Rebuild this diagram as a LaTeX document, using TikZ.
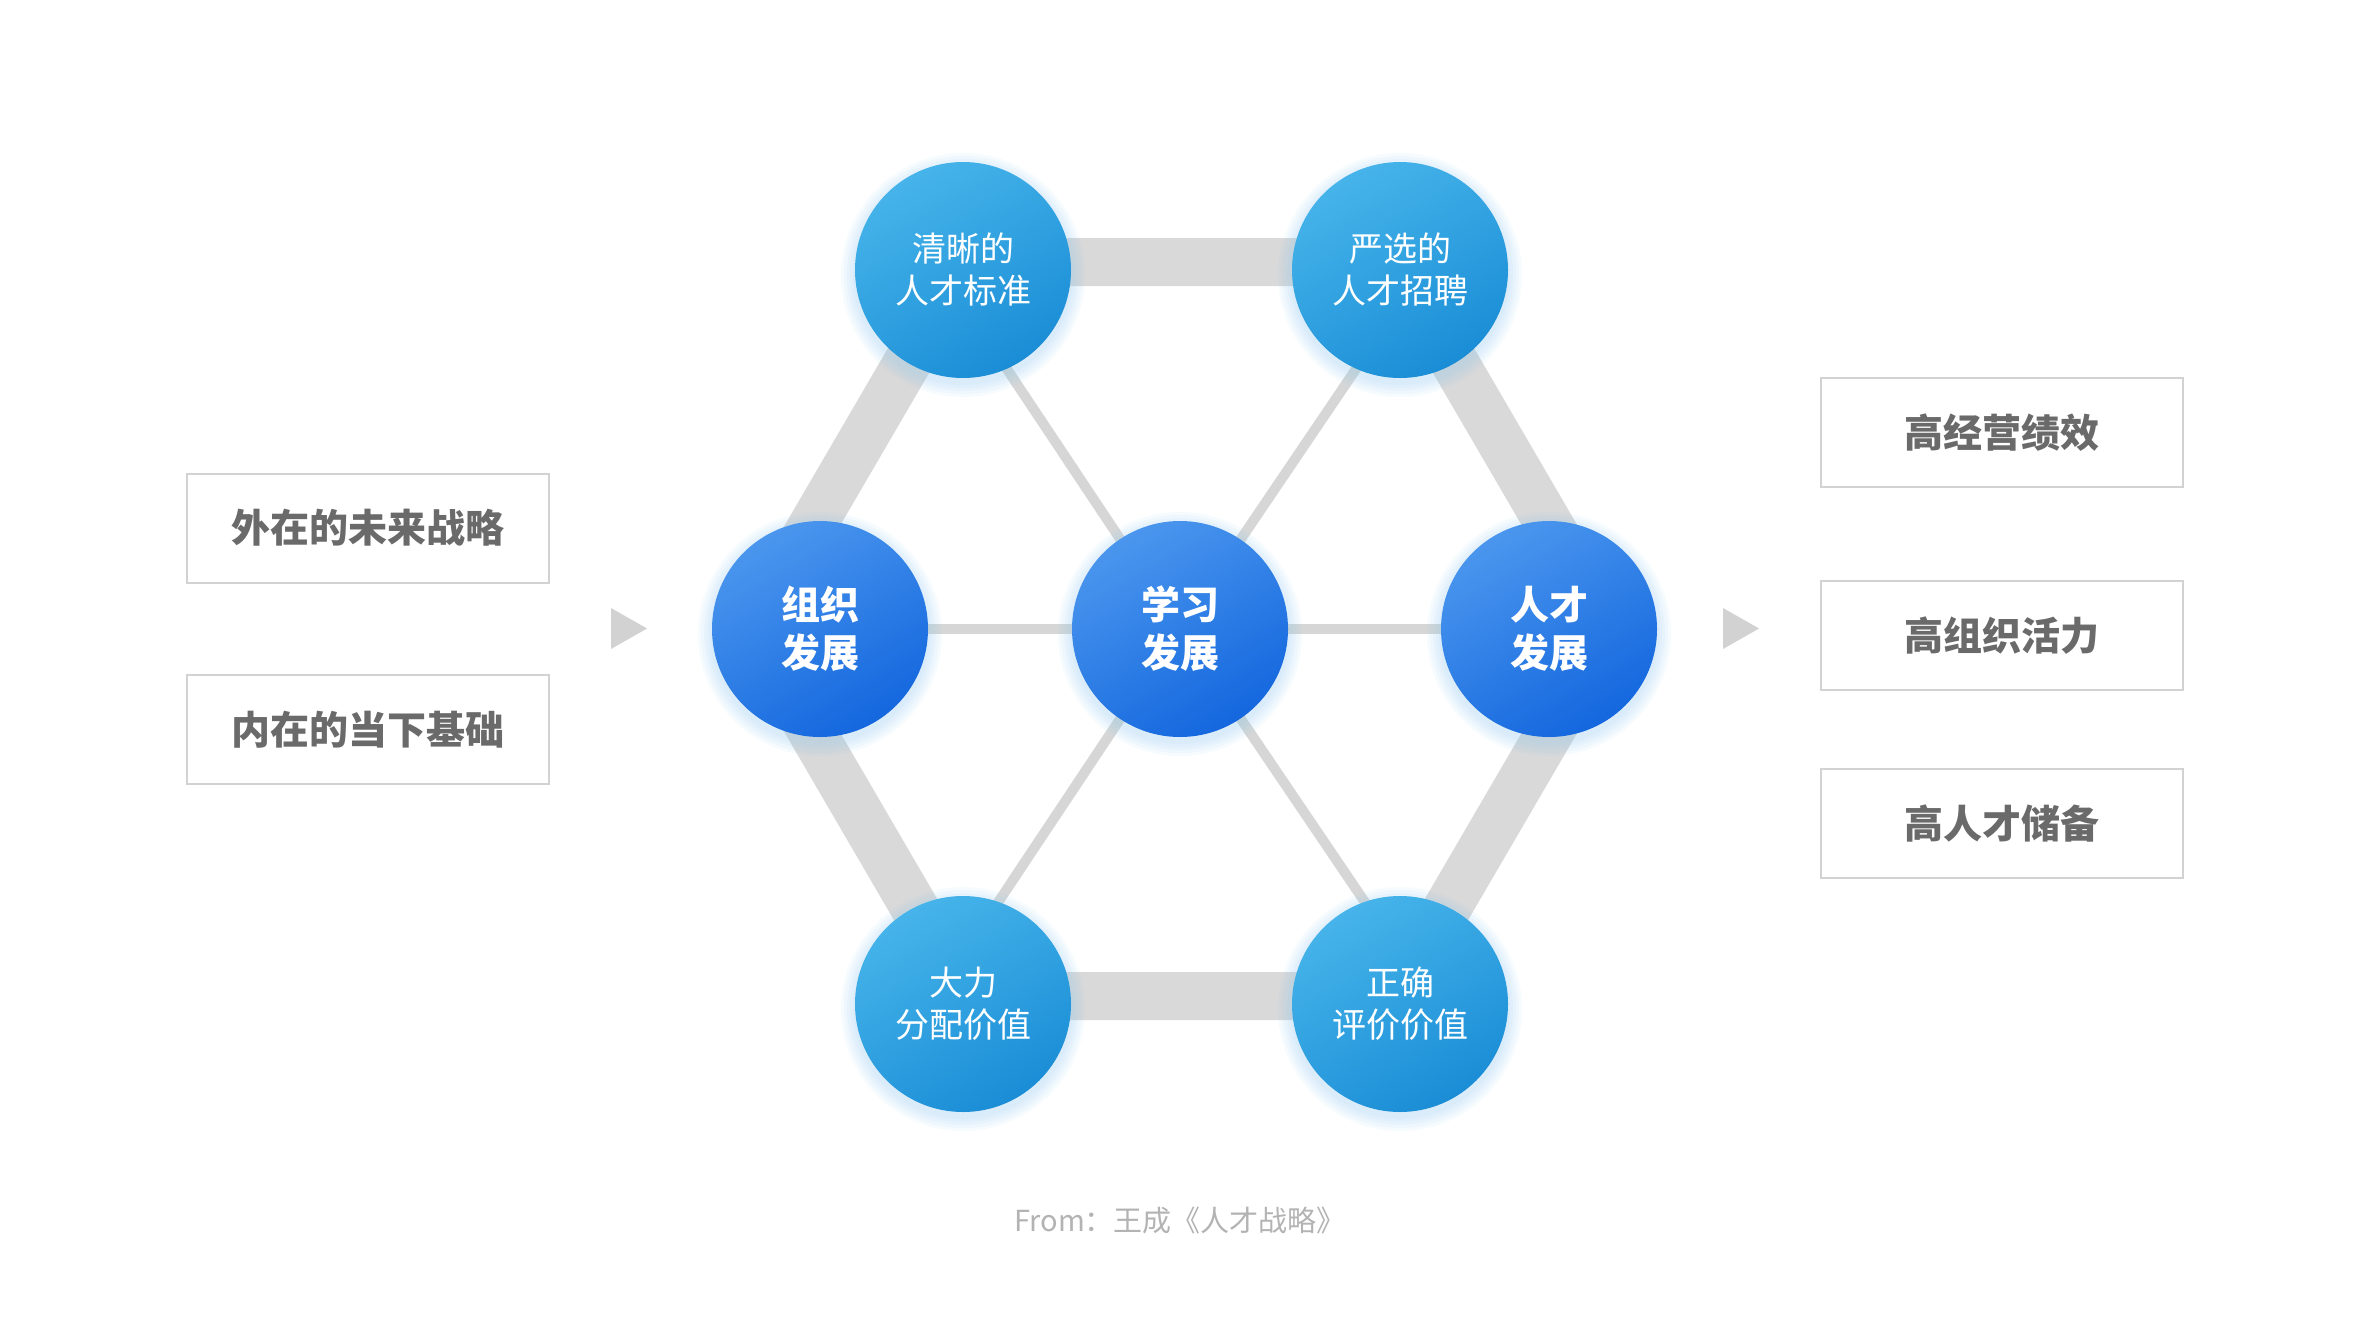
\documentclass[tikz,border=0pt]{standalone}
\usepackage{fontspec}
\setmainfont{Noto Sans CJK SC}
\usetikzlibrary{backgrounds,calc}
\definecolor{barcol}{HTML}{D9D9D9}
\definecolor{spokecol}{HTML}{D6D6D6}
\definecolor{outtop}{HTML}{46B4EA}
\definecolor{outbot}{HTML}{1A8DD6}
\definecolor{midtop}{HTML}{4A96EE}
\definecolor{midbot}{HTML}{1467DE}
\definecolor{glowcol}{HTML}{8CC8F2}
\definecolor{boxline}{HTML}{D2D2D2}
\definecolor{boxtext}{HTML}{6A6A6A}
\definecolor{tricol}{HTML}{D2D2D2}
\definecolor{foot}{HTML}{B3B3B3}
\tikzset{
  outercircle/.style={circle, minimum size=108pt, inner sep=0pt, text=white,
    top color=outtop, bottom color=outbot, shading angle=30, align=center,
    font=\fontsize{17pt}{21pt}\selectfont},
  midcircle/.style={circle, minimum size=108pt, inner sep=0pt, text=white,
    top color=midtop, bottom color=midbot, shading angle=30, align=center,
    font=\fontsize{19.5pt}{24pt}\selectfont\bfseries},
  infobox/.style={rectangle, draw=boxline, line width=1pt, fill=white,
    minimum width=181pt, minimum height=54.5pt, inner sep=0pt, text=boxtext,
    font=\fontsize{19.5pt}{24pt}\selectfont\bfseries},
  hexbar/.style={draw=barcol, line width=24pt, line join=miter},
  spoke/.style={draw=spokecol, line width=5pt},
  glow/.style={fill=glowcol, fill opacity=0.07},
}
\begin{document}
\begin{tikzpicture}[x=0.5pt,y=-0.5pt]
\useasboundingbox (0,0) rectangle (2370,1333);

% circles
\node[outercircle] (TL) at (963,270) {清晰的\\人才标准};
\node[outercircle] (TR) at (1400,270) {严选的\\人才招聘};
\node[midcircle] (L) at (820,629) {组织\\发展};
\node[midcircle] (C) at (1180,629) {学习\\发展};
\node[midcircle] (R) at (1549,629) {人才\\发展};
\node[outercircle] (BL) at (963,1004) {大力\\分配价值};
\node[outercircle] (BR) at (1400,1004) {正确\\评价价值};

% hexagon corners and spoke targets
\coordinate (hTL) at (966,262);
\coordinate (hTR) at (1396,262);
\coordinate (hR) at (1610,629);
\coordinate (hBR) at (1396,996);
\coordinate (hBL) at (966,996);
\coordinate (hL) at (752,629);
\coordinate (sTL) at (941,270);
\coordinate (sTR) at (1423,270);
\coordinate (sBL) at (941,988);
\coordinate (sBR) at (1423,988);

\begin{scope}[on background layer]
  \fill[white] (0,0) rectangle (2370,1333);
  \draw[hexbar] (hTL) -- (hTR) -- (hR) -- (hBR) -- (hBL) -- (hL) -- cycle;
  \draw[spoke] (C.center) -- (sTL);
  \draw[spoke] (C.center) -- (sTR);
  \draw[spoke] (C.center) -- (sBL);
  \draw[spoke] (C.center) -- (sBR);
  \draw[spoke] (C) -- (L);
  \draw[spoke] (C) -- (R);
  \foreach \n in {TL,TR,L,C,R,BL,BR}{
    \foreach \k in {2,5,8,11,14}{
      \fill[glow] ($(\n.center)+(0,5)$) circle ({108+\k});
    }
  }
\end{scope}

% boxes
\node[infobox] (in1) at (368,528) {外在的未来战略};
\node[infobox] (in2) at (368,729.5) {内在的当下基础};
\node[infobox] (out1) at (2002,432.5) {高经营绩效};
\node[infobox] (out2) at (2002,635.5) {高组织活力};
\node[infobox] (out3) at (2002,823.5) {高人才储备};

% arrow triangles
\fill[tricol] (611,608) -- (647,628.5) -- (611,649) -- cycle;
\fill[tricol] (1723,608) -- (1759,628.5) -- (1723,649) -- cycle;

% footer
\node[text=foot, font=\fontsize{14.5pt}{17pt}\selectfont] (src) at (1180,1220) {From：王成《人才战略》};
\end{tikzpicture}
\end{document}
